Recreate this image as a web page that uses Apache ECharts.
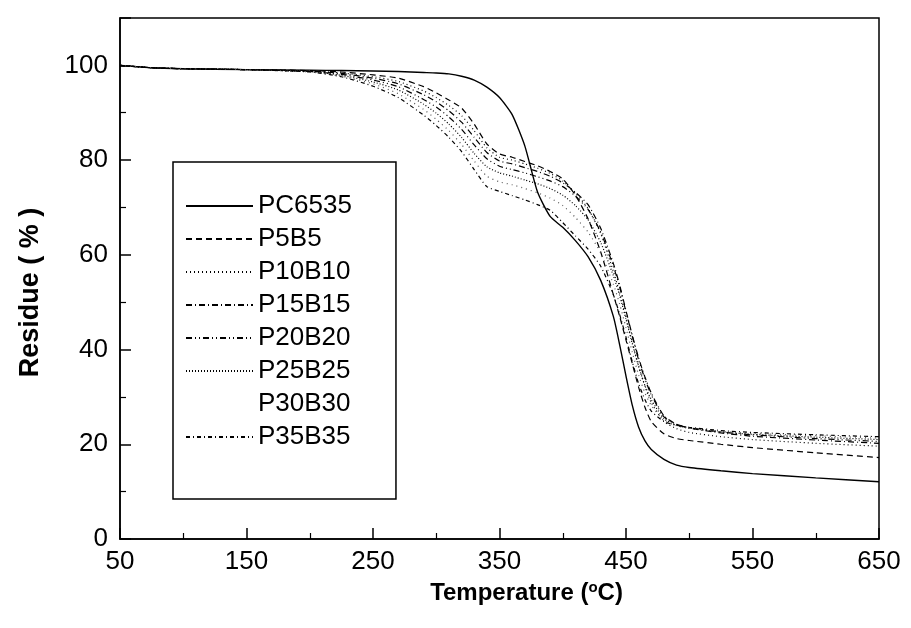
<!DOCTYPE html>
<html>
<head>
<meta charset="utf-8">
<script src="https://cdn.jsdelivr.net/npm/echarts@6/dist/echarts.min.js"></script>
<style>
  html, body { margin: 0; padding: 0; background: #fff; }
  #main { width: 911px; height: 628px; }
</style>
</head>
<body>
<div id="main"></div>
<script>
// temperature points (°C), shared by all curves
var temps = [50, 75, 100, 150, 200, 225, 250, 270, 290, 300, 310, 320, 330, 340, 350, 360, 370, 380, 390, 400,
  410, 420, 430, 440, 445, 450, 455, 460, 465, 470, 480, 490, 500, 525, 550, 600, 650];

// residue (%)
var pc6535 = [100, 99.5, 99.3, 99.1, 99.0, 98.9, 98.8, 98.7, 98.5, 98.4, 98.2, 97.7, 96.9, 95.4, 93.2, 89.6, 83.0, 73.3, 68.1, 65.8,
  63.0, 59.6, 54.6, 47.0, 41.0, 34.4, 28.2, 23.6, 20.7, 18.9, 16.8, 15.6, 15.1, 14.4, 13.8, 12.9, 12.1];
var p5b5 = [100, 99.5, 99.3, 99.1, 98.9, 98.6, 98.0, 97.3, 95.5, 94.2, 92.7, 91.0, 87.6, 83.4, 81.3, 80.6, 79.7, 78.8, 77.6, 76.0,
  72.6, 67.6, 60.6, 51.6, 47.0, 42.0, 37.0, 32.0, 27.8, 24.8, 22.2, 21.2, 20.8, 20.0, 19.3, 18.2, 17.2];
var p10b10 = [100, 99.5, 99.3, 99.1, 98.8, 98.4, 97.6, 96.6, 94.6, 93.2, 91.5, 89.4, 86.2, 82.6, 80.6, 80.0, 79.2, 78.3, 77.2, 75.6,
  73.0, 69.8, 64.5, 56.5, 52.0, 46.8, 41.5, 36.5, 32.2, 28.8, 24.8, 23.3, 22.5, 21.6, 21.0, 20.2, 19.6];
var p15b15 = [100, 99.5, 99.3, 99.1, 98.8, 98.3, 97.3, 96.1, 93.8, 92.3, 90.4, 88.0, 84.8, 81.6, 79.8, 79.2, 78.4, 77.6, 76.6, 75.2,
  73.2, 70.6, 65.6, 58.2, 53.6, 48.2, 43.0, 38.2, 34.2, 30.8, 26.0, 24.2, 23.4, 22.4, 21.7, 20.9, 20.2];
var p20b20 = [100, 99.5, 99.3, 99.1, 98.7, 98.1, 96.9, 95.5, 92.8, 91.2, 89.1, 86.5, 83.2, 80.3, 78.7, 78.0, 77.3, 76.5, 75.6, 74.4,
  72.4, 69.6, 64.8, 57.6, 53.2, 48.0, 42.8, 37.8, 33.8, 30.4, 25.8, 24.2, 23.5, 22.6, 22.0, 21.2, 20.6];
var p25b25 = [100, 99.5, 99.3, 99.1, 98.7, 97.9, 96.5, 94.8, 91.8, 89.9, 87.6, 84.8, 81.4, 78.6, 77.3, 76.6, 75.8, 75.0, 74.0, 72.6,
  70.4, 67.4, 62.6, 55.6, 51.4, 46.4, 41.2, 36.4, 32.4, 29.4, 25.4, 24.0, 23.4, 22.6, 22.1, 21.5, 21.0];
var p30b30 = [100, 99.5, 99.3, 99.1, 98.6, 97.7, 96.1, 94.0, 90.7, 88.6, 86.2, 83.3, 79.8, 76.6, 75.4, 74.8, 74.0, 73.1, 72.0, 70.4,
  67.9, 64.8, 60.4, 53.8, 49.6, 44.6, 39.4, 34.6, 30.8, 28.2, 25.0, 23.9, 23.4, 22.7, 22.3, 21.8, 21.3];
var p35b35 = [100, 99.5, 99.3, 99.1, 98.6, 97.6, 95.6, 93.2, 89.5, 87.3, 84.8, 81.8, 78.0, 74.4, 73.4, 72.5, 71.6, 70.6, 69.4, 66.8,
  64.0, 61.2, 57.6, 51.6, 47.4, 42.6, 37.4, 32.8, 29.4, 27.0, 24.8, 24.0, 23.6, 22.9, 22.5, 22.0, 21.6];

var names = ['PC6535', 'P5B5', 'P10B10', 'P15B15', 'P20B20', 'P25B25', 'P30B30', 'P35B35'];
var values = [pc6535, p5b5, p10b10, p15b15, p20b20, p25b25, p30b30, p35b35];
// dash patterns for each curve
var dashes = ['solid', [6, 4], [1, 3], [6, 3, 1, 3], [6, 3, 1, 3, 1, 3], [1, 2], [1, 4], [4, 3, 1, 3]];

var font = 'Liberation Sans, Arial, Helvetica, sans-serif';

var chart = echarts.init(document.getElementById('main'));

var series = names.map(function (n, k) {
  return {
    name: n,
    type: 'line',
    symbol: 'none',
    smooth: 0.2,
    lineStyle: {
      color: k == 6 ? '#555' : '#000',
      width: k == 0 ? 1.4 : 1.2,
      type: dashes[k]
    },
    itemStyle: { color: '#000' },
    data: temps.map(function (t, i) { return [t, values[k][i]]; })
  };
});

var legendData = names.map(function (n) {
  // P30B30 has no visible sample line in the original legend
  if (n == 'P30B30') return { name: n, lineStyle: { opacity: 0 } };
  return { name: n };
});

var option = {
  animation: false,
  backgroundColor: '#fff',
  grid: {
    left: 120, right: 32, top: 18, bottom: 89,
    show: true, borderColor: '#000', borderWidth: 1.5
  },
  legend: {
    data: legendData,
    orient: 'vertical',
    left: 173, top: 162,
    padding: [31, 44, 49, 12],
    itemWidth: 67, itemHeight: 14, itemGap: 7,
    itemStyle: { opacity: 0 },
    borderColor: '#000', borderWidth: 1.5,
    textStyle: { fontFamily: font, fontSize: 26, color: '#000', lineHeight: 25 }
  },
  xAxis: {
    type: 'value',
    min: 50, max: 650, interval: 100,
    name: 'Temperature ({s|o}C)',
    nameLocation: 'middle',
    nameGap: 38,
    nameTextStyle: {
      fontFamily: font, fontSize: 24, fontWeight: 'bold', color: '#000',
      padding: [0, 0, 0, 54],
      rich: { s: { fontFamily: font, fontSize: 15, fontWeight: 'bold', color: '#000', verticalAlign: 'top', padding: [0, 0, 12, 0] } }
    },
    axisLine: { lineStyle: { color: '#000', width: 1.5 } },
    axisTick: { inside: true, length: 11, lineStyle: { color: '#000', width: 1.5 } },
    minorTick: { show: true, splitNumber: 2, length: 6, lineStyle: { color: '#000', width: 1.2 } },
    axisLabel: { fontFamily: font, fontSize: 26, color: '#000', margin: 10 },
    splitLine: { show: false }
  },
  yAxis: {
    type: 'value',
    min: 0, max: 110, interval: 20,
    name: 'Residue ( % )',
    nameLocation: 'middle',
    nameGap: 76,
    nameTextStyle: { fontFamily: font, fontSize: 27, fontWeight: 'bold', color: '#000', padding: [0, 0, 0, -28] },
    axisLine: { lineStyle: { color: '#000', width: 1.5 } },
    axisTick: { inside: true, length: 11, lineStyle: { color: '#000', width: 1.5 } },
    minorTick: { show: true, splitNumber: 2, length: 6, lineStyle: { color: '#000', width: 1.2 } },
    axisLabel: { fontFamily: font, fontSize: 26, color: '#000', margin: 12, showMaxLabel: false },
    splitLine: { show: false }
  },
  series: series
};

chart.setOption(option);
</script>
</body>
</html>
